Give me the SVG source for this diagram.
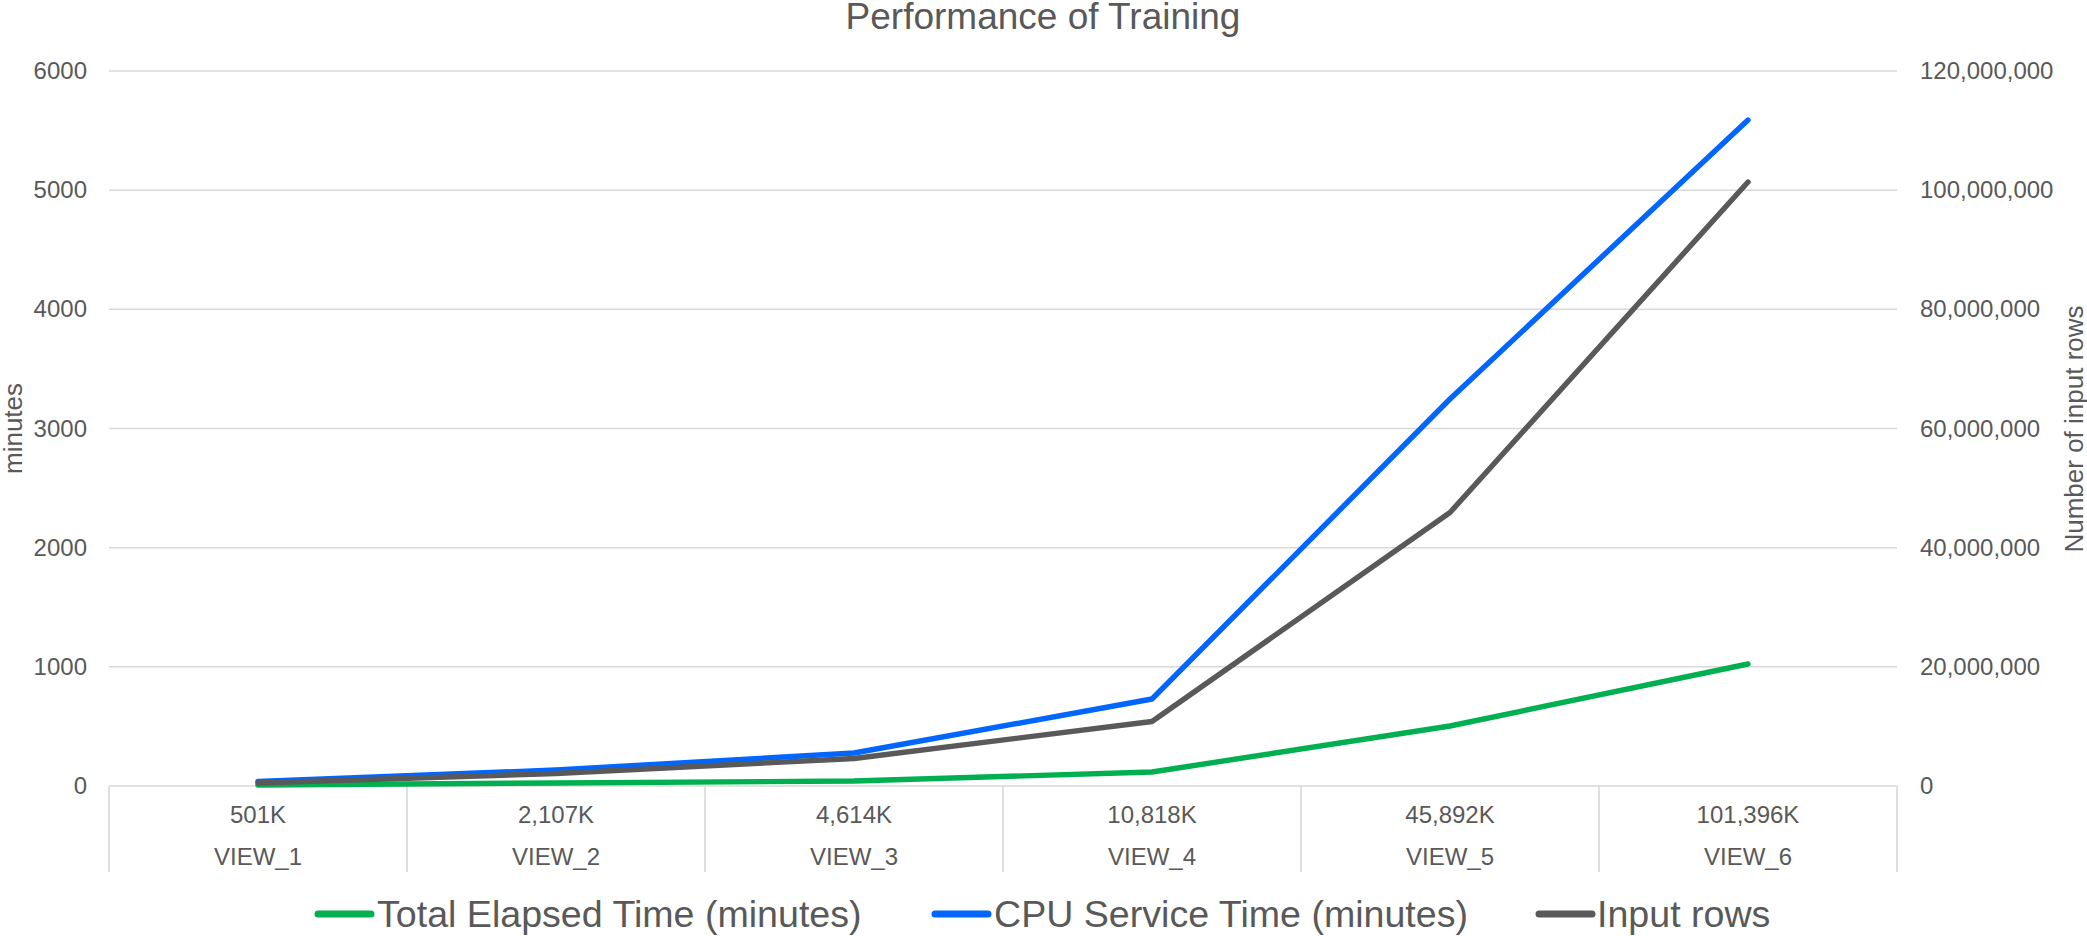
<svg xmlns="http://www.w3.org/2000/svg" width="2087" height="936" viewBox="0 0 2087 936">
  <style>
    text { font-family: "Liberation Sans", Arial, sans-serif; fill: #595959; }
    .tick { font-size: 24px; }
    .ltick { text-anchor: end; }
    .cat { text-anchor: middle; }
    .axt { font-size: 26px; text-anchor: middle; }
    .leg { font-size: 37.6px; }
    .grid { stroke: #d9d9d9; stroke-width: 1.6; fill: none; }
    .series { fill: none; stroke-width: 5.4; stroke-linejoin: round; stroke-linecap: round; }
    .legline { stroke-width: 7; stroke-linecap: round; }
    .green { stroke: #00b050; }
    .blue { stroke: #0066ff; }
    .gray { stroke: #595959; }
  </style>
  <rect width="2087" height="936" fill="#ffffff"/>

  <g id="title">
    <text x="1043" y="29" font-size="37" text-anchor="middle">Performance of Training</text>
  </g>

  <g id="gridlines">
    <line class="grid" x1="109" y1="71" x2="1897" y2="71"/>
    <line class="grid" x1="109" y1="190.2" x2="1897" y2="190.2"/>
    <line class="grid" x1="109" y1="309.3" x2="1897" y2="309.3"/>
    <line class="grid" x1="109" y1="428.5" x2="1897" y2="428.5"/>
    <line class="grid" x1="109" y1="547.7" x2="1897" y2="547.7"/>
    <line class="grid" x1="109" y1="666.8" x2="1897" y2="666.8"/>
    <line class="grid" x1="109" y1="786" x2="1897" y2="786"/>
  </g>

  <g id="category-axis">
    <line class="grid" x1="109" y1="786" x2="109" y2="872"/>
    <line class="grid" x1="407" y1="786" x2="407" y2="872"/>
    <line class="grid" x1="705" y1="786" x2="705" y2="872"/>
    <line class="grid" x1="1003" y1="786" x2="1003" y2="872"/>
    <line class="grid" x1="1301" y1="786" x2="1301" y2="872"/>
    <line class="grid" x1="1599" y1="786" x2="1599" y2="872"/>
    <line class="grid" x1="1897" y1="786" x2="1897" y2="872"/>
    <text class="tick cat" x="258" y="823">501K</text>
    <text class="tick cat" x="556" y="823">2,107K</text>
    <text class="tick cat" x="854" y="823">4,614K</text>
    <text class="tick cat" x="1152" y="823">10,818K</text>
    <text class="tick cat" x="1450" y="823">45,892K</text>
    <text class="tick cat" x="1748" y="823">101,396K</text>
    <text class="tick cat" x="258" y="865">VIEW_1</text>
    <text class="tick cat" x="556" y="865">VIEW_2</text>
    <text class="tick cat" x="854" y="865">VIEW_3</text>
    <text class="tick cat" x="1152" y="865">VIEW_4</text>
    <text class="tick cat" x="1450" y="865">VIEW_5</text>
    <text class="tick cat" x="1748" y="865">VIEW_6</text>
  </g>

  <g id="left-axis">
    <text class="tick ltick" x="87" y="79">6000</text>
    <text class="tick ltick" x="87" y="198.2">5000</text>
    <text class="tick ltick" x="87" y="317.3">4000</text>
    <text class="tick ltick" x="87" y="436.5">3000</text>
    <text class="tick ltick" x="87" y="555.7">2000</text>
    <text class="tick ltick" x="87" y="674.8">1000</text>
    <text class="tick ltick" x="87" y="794">0</text>
    <text class="axt" transform="translate(22,428.5) rotate(-90)">minutes</text>
  </g>

  <g id="right-axis">
    <text class="tick" x="1920" y="79">120,000,000</text>
    <text class="tick" x="1920" y="198.2">100,000,000</text>
    <text class="tick" x="1920" y="317.3">80,000,000</text>
    <text class="tick" x="1920" y="436.5">60,000,000</text>
    <text class="tick" x="1920" y="555.7">40,000,000</text>
    <text class="tick" x="1920" y="674.8">20,000,000</text>
    <text class="tick" x="1920" y="794">0</text>
    <text class="axt" transform="translate(2083,429) rotate(-90)">Number of input rows</text>
  </g>

  <g id="series">
    <polyline id="total-elapsed" class="series green" points="258,785 556,783 854,781 1152,772 1450,726 1748,664"/>
    <polyline id="cpu-service" class="series blue" points="258,781.5 556,770 854,753 1152,699 1450,399 1748,120"/>
    <polyline id="input-rows" class="series gray" points="258,783 556,773.5 854,758.5 1152,721.5 1450,512.5 1748,182"/>
  </g>

  <g id="legend">
    <line class="legline green" x1="318" y1="914" x2="371" y2="914"/>
    <text class="leg" x="377" y="927">Total Elapsed Time (minutes)</text>
    <line class="legline blue" x1="935" y1="914" x2="988" y2="914"/>
    <text class="leg" x="994" y="927">CPU Service Time (minutes)</text>
    <line class="legline gray" x1="1539" y1="914" x2="1592" y2="914"/>
    <text class="leg" x="1597" y="927">Input rows</text>
  </g>
</svg>
